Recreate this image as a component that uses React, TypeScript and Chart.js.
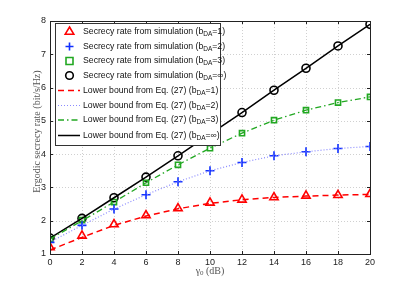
import React, { useEffect, useRef } from "react";
import { Chart, registerables } from "chart.js";

Chart.register(...registerables);

const xVals = [0, 2, 4, 6, 8, 10, 12, 14, 16, 18, 20];
const simB1 = [1.2, 1.55, 1.89, 2.16, 2.37, 2.54, 2.63, 2.7, 2.75, 2.77, 2.8];
const simB2 = [1.35, 1.86, 2.35, 2.78, 3.17, 3.5, 3.75, 3.95, 4.07, 4.17, 4.23];
const simB3 = [1.45, 2.02, 2.56, 3.14, 3.68, 4.18, 4.63, 5.02, 5.32, 5.55, 5.72];
const simBInf = [1.48, 2.07, 2.69, 3.31, 3.95, 4.6, 5.25, 5.92, 6.58, 7.25, 7.9];
const boundB1 = [1.12, 1.5, 1.86, 2.14, 2.36, 2.52, 2.63, 2.7, 2.74, 2.77, 2.79];
const boundB2 = [1.36, 1.86, 2.35, 2.78, 3.17, 3.5, 3.75, 3.95, 4.07, 4.17, 4.23];
const boundB3 = [1.45, 2.0, 2.56, 3.14, 3.68, 4.18, 4.63, 5.02, 5.32, 5.55, 5.72];
const boundBInf = [1.48, 2.07, 2.69, 3.31, 3.95, 4.6, 5.25, 5.92, 6.58, 7.25, 7.9];
const xTicks = [0, 2, 4, 6, 8, 10, 12, 14, 16, 18, 20];
const yTicks = [1, 2, 3, 4, 5, 6, 7, 8];

const simLabel = "Secrecy rate from simulation (b";
const boundLabel = "Lower bound from Eq. (27) (b";
const bSuffixes = ["=1)", "=2)", "=3)", "=\u221E)"];

const RED = "#ff0000";
const BLUE = "#1030ff";
const BLUE_LINE = "#8a8aff";
const GREEN = "#22a822";
const BLACK = "#000000";

const pts = (ys: number[]) => xVals.map((x, i) => ({ x, y: ys[i] }));

const legendItems = [
  { kind: "marker", style: "triangle", color: RED, text: simLabel, suf: bSuffixes[0], r: 4.5 },
  { kind: "marker", style: "cross", color: BLUE, text: simLabel, suf: bSuffixes[1], r: 4 },
  { kind: "marker", style: "rect", color: GREEN, text: simLabel, suf: bSuffixes[2], r: 3.5 },
  { kind: "marker", style: "circle", color: BLACK, text: simLabel, suf: bSuffixes[3], r: 3.8 },
  { kind: "line", dash: [6, 4], color: RED, width: 1.5, text: boundLabel, suf: bSuffixes[0] },
  { kind: "line", dash: [1, 2], color: BLUE_LINE, width: 1.2, text: boundLabel, suf: bSuffixes[1] },
  { kind: "line", dash: [6, 3, 1.5, 3], color: GREEN, width: 1.3, text: boundLabel, suf: bSuffixes[2] },
  { kind: "line", dash: [], color: BLACK, width: 1.5, text: boundLabel, suf: bSuffixes[3] },
];

function drawMarker(ctx: CanvasRenderingContext2D, style: string, x: number, y: number, r: number, color: string) {
  ctx.save();
  ctx.strokeStyle = color;
  ctx.lineWidth = 1.6;
  ctx.setLineDash([]);
  ctx.beginPath();
  if (style === "triangle") {
    ctx.moveTo(x, y - r);
    ctx.lineTo(x + r * 0.95, y + r * 0.6);
    ctx.lineTo(x - r * 0.95, y + r * 0.6);
    ctx.closePath();
  } else if (style === "cross") {
    ctx.moveTo(x - r, y);
    ctx.lineTo(x + r, y);
    ctx.moveTo(x, y - r);
    ctx.lineTo(x, y + r);
  } else if (style === "rect") {
    ctx.rect(x - r, y - r, 2 * r, 2 * r);
  } else {
    ctx.arc(x, y, r, 0, Math.PI * 2);
  }
  ctx.stroke();
  ctx.restore();
}

const framePlugin = {
  id: "frame",
  beforeDatasetsDraw(chart: any) {
    const { ctx, chartArea: a, scales } = chart;
    const xs = scales.x;
    const ys = scales.y;
    ctx.save();
    ctx.strokeStyle = "#c4c4c4";
    ctx.lineWidth = 0.8;
    ctx.setLineDash([1, 2]);
    xTicks.forEach((t) => {
      const px = Math.round(xs.getPixelForValue(t)) + 0.5;
      ctx.beginPath();
      ctx.moveTo(px, a.top);
      ctx.lineTo(px, a.bottom);
      ctx.stroke();
    });
    yTicks.forEach((t) => {
      const py = Math.round(ys.getPixelForValue(t)) + 0.5;
      ctx.beginPath();
      ctx.moveTo(a.left, py);
      ctx.lineTo(a.right, py);
      ctx.stroke();
    });
    ctx.restore();
  },
  afterDatasetsDraw(chart: any) {
    const { ctx, chartArea: a, scales } = chart;
    const xs = scales.x;
    const ys = scales.y;
    ctx.save();
    ctx.setLineDash([]);
    ctx.strokeStyle = "#222";
    ctx.lineWidth = 1;
    ctx.strokeRect(Math.round(a.left) + 0.5, Math.round(a.top) + 0.5, Math.round(a.right - a.left), Math.round(a.bottom - a.top));
    xTicks.forEach((t) => {
      const px = Math.round(xs.getPixelForValue(t)) + 0.5;
      ctx.beginPath();
      ctx.moveTo(px, a.bottom);
      ctx.lineTo(px, a.bottom - 3);
      ctx.moveTo(px, a.top);
      ctx.lineTo(px, a.top + 3);
      ctx.stroke();
    });
    yTicks.forEach((t) => {
      const py = Math.round(ys.getPixelForValue(t)) + 0.5;
      ctx.beginPath();
      ctx.moveTo(a.left, py);
      ctx.lineTo(a.left + 3, py);
      ctx.moveTo(a.right, py);
      ctx.lineTo(a.right - 3, py);
      ctx.stroke();
    });

    ctx.fillStyle = "#555";
    ctx.font = "10px 'Liberation Serif', serif";
    ctx.textBaseline = "middle";
    ctx.save();
    ctx.translate(37, (a.top + a.bottom) / 2 - 6);
    ctx.rotate(-Math.PI / 2);
    ctx.textAlign = "center";
    ctx.fillText("Ergodic secrecy rate (bit/s/Hz)", 0, 0);
    ctx.restore();

    const cx = (a.left + a.right) / 2;
    const ty = 271;
    ctx.textAlign = "left";
    const g = "\u03B3";
    const rest = " (dB)";
    ctx.font = "10px 'Liberation Serif', serif";
    const wg = ctx.measureText(g).width;
    const wr = ctx.measureText(rest).width;
    ctx.font = "7px 'Liberation Serif', serif";
    const w0 = ctx.measureText("0").width;
    const total = wg + w0 + wr;
    let sx = cx - total / 2;
    ctx.font = "10px 'Liberation Serif', serif";
    ctx.fillText(g, sx, ty);
    sx += wg;
    ctx.font = "7px 'Liberation Serif', serif";
    ctx.fillText("0", sx, ty + 2);
    sx += w0;
    ctx.font = "10px 'Liberation Serif', serif";
    ctx.fillText(rest, sx, ty);

    const lx = 55, ly = 23, lw = 165, lh = 122;
    ctx.fillStyle = "#fff";
    ctx.fillRect(lx, ly, lw, lh);
    ctx.strokeStyle = "#333";
    ctx.lineWidth = 1;
    ctx.strokeRect(lx + 0.5, ly + 0.5, lw, lh);
    const rowYs = [31.5, 46.5, 61, 75.5, 90.5, 105.5, 120, 135.5];
    legendItems.forEach((it: any, i: number) => {
      const y = rowYs[i];
      if (it.kind === "marker") {
        drawMarker(ctx, it.style, 69.5, y, it.r, it.color);
      } else {
        ctx.save();
        ctx.strokeStyle = it.color;
        ctx.lineWidth = it.width;
        ctx.setLineDash(it.dash);
        ctx.beginPath();
        ctx.moveTo(58, y);
        ctx.lineTo(80, y);
        ctx.stroke();
        ctx.restore();
      }
      ctx.fillStyle = "#111";
      ctx.textAlign = "left";
      ctx.textBaseline = "middle";
      ctx.font = "8.7px 'Liberation Sans', Arial, sans-serif";
      let tx = 83;
      ctx.fillText(it.text, tx, y);
      tx += ctx.measureText(it.text).width;
      ctx.font = "6.5px 'Liberation Sans', Arial, sans-serif";
      ctx.fillText("DA", tx, y + 2.5);
      tx += ctx.measureText("DA").width;
      ctx.font = "8.7px 'Liberation Sans', Arial, sans-serif";
      ctx.fillText(it.suf, tx, y);
    });
    ctx.restore();
  },
};

export default function App() {
  const ref = useRef<HTMLCanvasElement | null>(null);
  useEffect(() => {
    if (!ref.current) return;
    const mk = (ys: number[], color: string, style: string, r: number) => ({
      data: pts(ys),
      showLine: false,
      borderColor: color,
      backgroundColor: "rgba(0,0,0,0)",
      pointStyle: style,
      pointRadius: r,
      pointBorderWidth: 1.6,
      pointBorderColor: color,
      pointBackgroundColor: "rgba(0,0,0,0)",
    });
    const ln = (ys: number[], color: string, dash: number[], w: number) => ({
      data: pts(ys),
      showLine: true,
      borderColor: color,
      borderWidth: w,
      borderDash: dash,
      pointRadius: 0,
      fill: false,
      tension: 0,
    });
    const chart = new Chart(ref.current, {
      type: "line",
      data: {
        datasets: [
          ln(boundB1, RED, [6, 4], 1.5),
          ln(boundB2, BLUE_LINE, [1, 2], 1.2),
          ln(boundB3, GREEN, [6, 3, 1.5, 3], 1.3),
          ln(boundBInf, BLACK, [], 1.5),
          mk(simB1, RED, "triangle", 4.8),
          mk(simB2, BLUE, "cross", 4.5),
          mk(simB3, GREEN, "rect", 3.6),
          mk(simBInf, BLACK, "circle", 4),
        ] as any,
      },
      options: {
        animation: false,
        responsive: false,
        layout: { padding: { top: 21, right: 45, left: 0, bottom: 0 } },
        plugins: { legend: { display: false }, tooltip: { enabled: false } },
        scales: {
          x: {
            type: "linear",
            min: 0,
            max: 20,
            afterFit: (s: any) => { s.height = 32; },
            afterBuildTicks: (s: any) => { s.ticks = xTicks.map((v) => ({ value: v })); },
            grid: { display: false, drawTicks: false },
            border: { display: false },
            ticks: { padding: 3, color: "#222", font: { size: 9, family: "'Liberation Sans', Arial, sans-serif" }, maxRotation: 0 },
          },
          y: {
            type: "linear",
            min: 1,
            max: 8,
            afterFit: (s: any) => { s.width = 50; },
            afterBuildTicks: (s: any) => { s.ticks = yTicks.map((v) => ({ value: v })); },
            grid: { display: false, drawTicks: false },
            border: { display: false },
            ticks: { padding: 4, color: "#222", font: { size: 9, family: "'Liberation Sans', Arial, sans-serif" } },
          },
        },
      } as any,
      plugins: [framePlugin],
    });
    return () => chart.destroy();
  }, []);
  return (
    <div style={{ position: "fixed", left: 0, top: 0, width: 415, height: 286, background: "#fff" }}>
      <canvas ref={ref} width={415} height={286} style={{ width: 415, height: 286, display: "block" }} />
    </div>
  );
}
